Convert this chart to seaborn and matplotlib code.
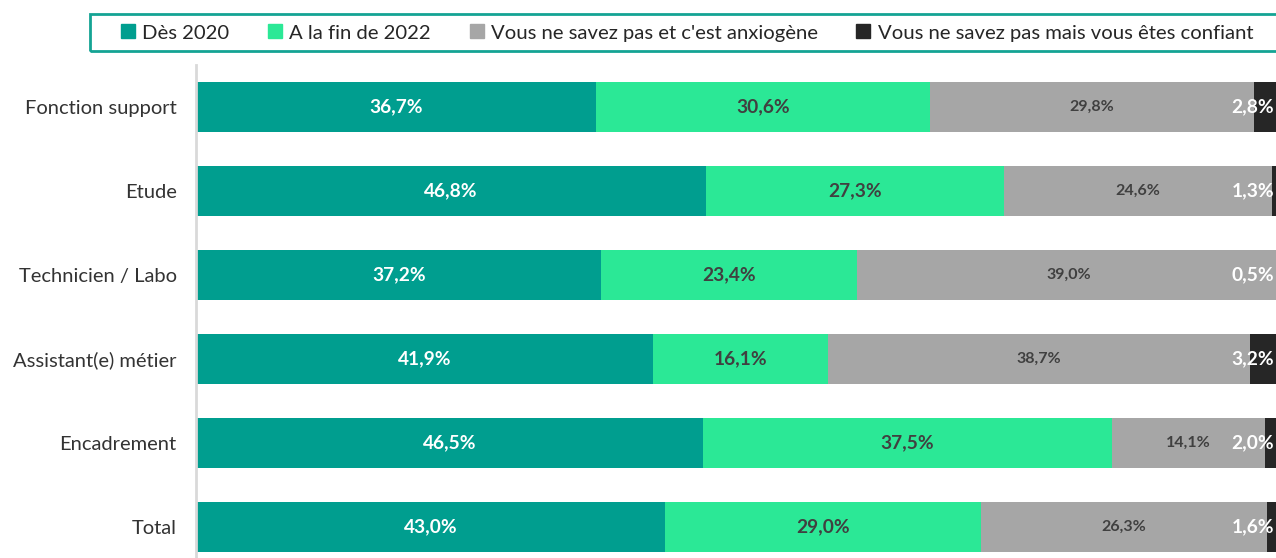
import matplotlib
matplotlib.use("Agg")
import matplotlib.pyplot as plt
from matplotlib.lines import Line2D
from matplotlib.patches import Rectangle
import numpy as np
import pandas as pd
import seaborn as sns

categories = ["Fonction support", "Etude", "Technicien / Labo",
              "Assistant(e) métier", "Encadrement", "Total"]
series_names = ["Dès 2020", "A la fin de 2022",
                "Vous ne savez pas et c'est anxiogène",
                "Vous ne savez pas mais vous êtes confiant"]
des_2020 = [36.7, 46.8, 37.2, 41.9, 46.5, 43.0]
fin_2022 = [30.6, 27.3, 23.4, 16.1, 37.5, 29.0]
anxiogene = [29.8, 24.6, 39.0, 38.7, 14.1, 26.3]
confiant = [2.8, 1.3, 0.5, 3.2, 2.0, 1.6]

colors = ["#009E8F", "#2BE896", "#A6A6A6", "#262626"]
label_colors = ["white", "#404040", "#404040", "white"]
label_sizes = [13.8, 13.8, 11.5, 13.8]

sns.set_theme(style="white")
plt.rcParams["font.family"] = ["Lato", "DejaVu Sans"]

values = np.array([des_2020, fin_2022, anxiogene, confiant])
cum = values.cumsum(axis=0)

W, H = 1276, 558
fig = plt.figure(figsize=(W / 100, H / 100), dpi=100)
ax = fig.add_axes([196 / W, -11 / H, 1090 / W, 504 / H])

# stacked bars: draw cumulative totals from the outermost segment inward
for i in range(3, -1, -1):
    df = pd.DataFrame({"cat": categories, "val": cum[i]})
    sns.barplot(data=df, x="val", y="cat", orient="h", color=colors[i],
                width=0.585, saturation=1, linewidth=0, ax=ax)

ax.set_xlim(0, 100)
ax.set_ylim(len(categories) - 0.5, -0.5)
ax.set_xlabel("")
ax.set_ylabel("")
ax.set_xticks([])
for s in ["top", "right", "bottom"]:
    ax.spines[s].set_visible(False)
ax.spines["left"].set_color("#D9D9D9")
ax.spines["left"].set_linewidth(2)
ax.tick_params(axis="y", length=0, pad=14, labelsize=14.5, labelcolor="#333333")

fmt = lambda v: f"{v:.1f}%".replace(".", ",")
for i in range(4):
    starts = cum[i] - values[i]
    for j, v in enumerate(values[i]):
        if i == 3:
            x, ha = 98.9, "right"
        else:
            x, ha = starts[j] + v / 2, "center"
        ax.text(x, j, fmt(v), ha=ha, va="center", color=label_colors[i],
                fontsize=label_sizes[i], fontweight="bold")

# legend frame running off the right edge
fig.patches.append(Rectangle((90 / W, 1 - 51 / H), 1200 / W, 37 / H,
                             transform=fig.transFigure, fill=False,
                             edgecolor="#14A394", linewidth=2))

handles = [Line2D([], [], marker="s", linestyle="", markersize=9.5,
                  markerfacecolor=c, markeredgecolor=c) for c in colors]
leg = fig.legend(handles, series_names, loc="center left",
                 bbox_to_anchor=(119 / W, 1 - 33 / H), ncol=4,
                 frameon=False, fontsize=14.6,
                 handlelength=0.9, handletextpad=0.25, columnspacing=1.8,
                 borderpad=0, borderaxespad=0)
for t in leg.get_texts():
    t.set_color("#262626")

fig.savefig("out.png", dpi=100)
